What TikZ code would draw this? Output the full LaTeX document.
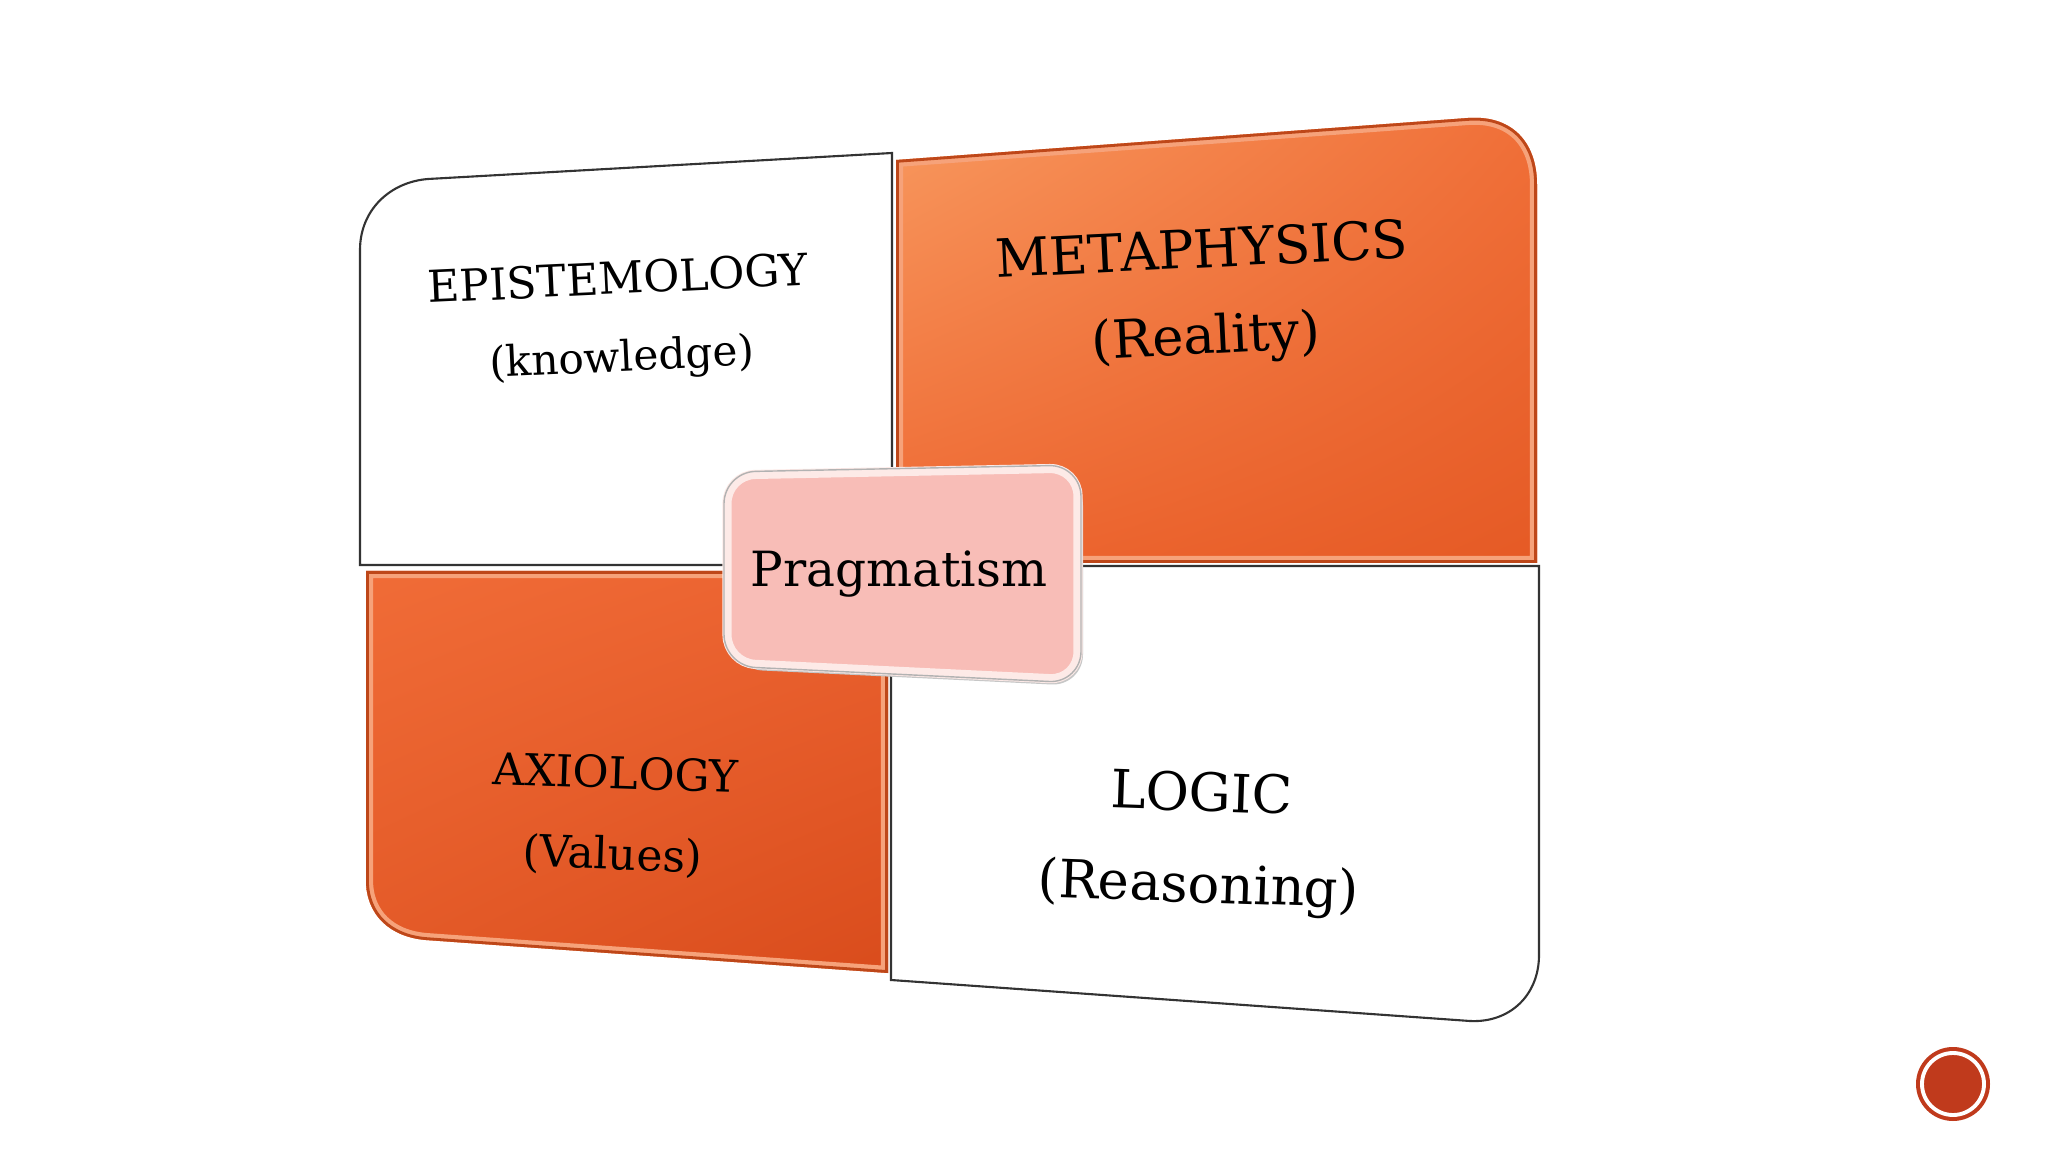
\documentclass[tikz,border=0pt]{standalone}
\usepackage{fontspec}
\setmainfont{DejaVu Serif}
\usetikzlibrary{shadings}
\definecolor{oraEdge}{HTML}{BE4719}
\definecolor{oraHi}{HTML}{F6A27A}
\definecolor{oraUL}{HTML}{F8995F}
\definecolor{oraUR}{HTML}{F06F38}
\definecolor{oraLL}{HTML}{EE6731}
\definecolor{oraLR}{HTML}{E55A25}
\definecolor{obUL}{HTML}{F06C37}
\definecolor{obUR}{HTML}{EB6230}
\definecolor{obLL}{HTML}{E35927}
\definecolor{obLR}{HTML}{D94C1C}
\definecolor{pinkF}{HTML}{F8BDB7}
\definecolor{pinkE}{HTML}{FDEAE7}
\definecolor{dotC}{HTML}{C03A1C}
\begin{document}
\begin{tikzpicture}[x=0.01cm,y=-0.01cm,
  lbl/.style={text=black, align=center, inner sep=0pt},
  whitequad/.style={fill=white, draw=black!80, line width=0.6pt}]
\useasboundingbox (0,0) rectangle (2048,1152);
\fill[white] (0,0) rectangle (2048,1152);

% top-right (orange)
\def\trpath{(896,563) -- (896,160) -- (1468,118) .. controls (1510,115) and (1537,140) .. (1537,185) -- (1537,563) -- cycle}
\shade[upper left=oraUL, upper right=oraUR, lower left=oraLL, lower right=oraLR] \trpath;
\begin{scope}
  \clip \trpath;
  \draw[oraHi, line width=4pt] \trpath;
  \draw[oraEdge, line width=1.6pt] \trpath;
\end{scope}

% bottom-left (orange)
\def\blpath{(366,571) -- (888,571) -- (888,973) -- (426,940) .. controls (390,937) and (366,915) .. (366,880) -- cycle}
\shade[upper left=obUL, upper right=obUR, lower left=obLL, lower right=obLR] \blpath;
\begin{scope}
  \clip \blpath;
  \draw[oraHi, line width=4pt] \blpath;
  \draw[oraEdge, line width=1.6pt] \blpath;
\end{scope}

% top-left (white)
\path[whitequad] (360,565) -- (360,250) .. controls (360,210) and (390,182) .. (428,179) -- (892,153) -- (892,565) -- cycle;

% bottom-right (white)
\path[whitequad] (891,566) -- (1539,566) -- (1539,955) .. controls (1539,995) and (1510,1023) .. (1470,1021) -- (891,980) -- cycle;

% centre box
\fill[black!22, rounded corners=9pt] (731,481) -- (1083,474) -- (1083,686) -- (731,669) -- cycle;
\path[fill=pinkF, draw=pinkE, line width=2.6pt, rounded corners=8pt] (727,475) -- (1078,468) -- (1078,680) -- (727,663) -- cycle;
\draw[black!30, line width=0.4pt, rounded corners=9pt] (724,472) -- (1081,465) -- (1081,683) -- (724,666) -- cycle;

% labels
\node[lbl, rotate=2.7, font=\fontsize{12.5}{22}\selectfont] (epi) at (620,321) {EPISTEMOLOGY\\{\fontsize{12}{22}\selectfont (knowledge)}};
\node[lbl, rotate=2.8, font=\fontsize{15}{24.5}\selectfont] (meta) at (1204,297) {METAPHYSICS\\(Reality)};
\node[lbl, rotate=-2, font=\fontsize{12.5}{23}\selectfont] (axi) at (614,816) {AXIOLOGY\\(Values)};
\node[lbl, rotate=-2, font=\fontsize{15}{26}\selectfont] (logic) at (1200,843) {LOGIC\\(Reasoning)};
\node[lbl, font=\fontsize{13.8}{18}\selectfont] (prag) at (899,574) {Pragmatism};

% page marker
\fill[dotC] (1953,1084) circle (37);
\draw[white, line width=1.1pt] (1953,1084) circle (31);
\end{tikzpicture}
\end{document}
